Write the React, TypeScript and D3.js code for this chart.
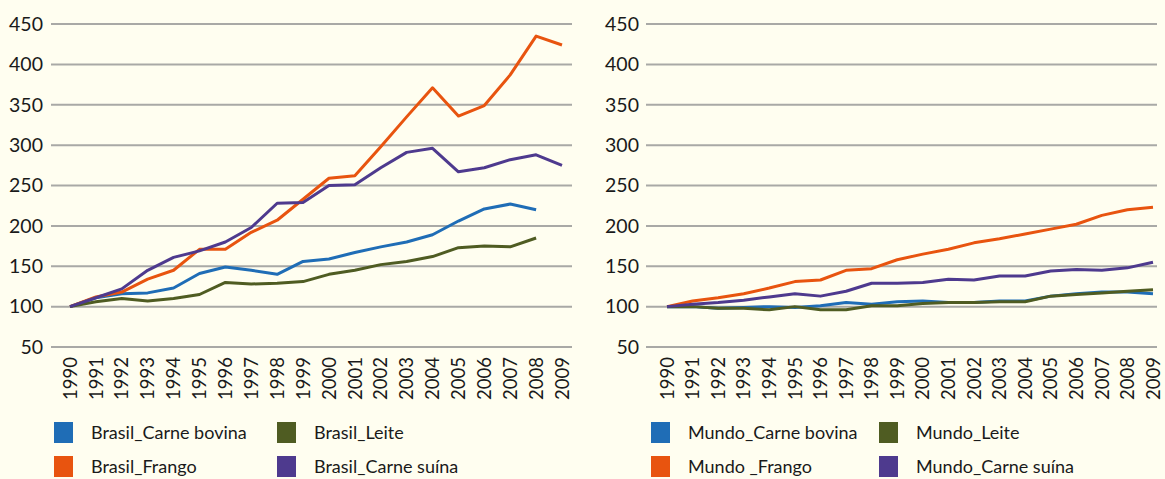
import React from "react";
import * as d3 from "d3";

const width = 1165;
const height = 479;

const years = [
  "1990", "1991", "1992", "1993", "1994", "1995", "1996", "1997", "1998", "1999",
  "2000", "2001", "2002", "2003", "2004", "2005", "2006", "2007", "2008", "2009",
];
const yTicks = [50, 100, 150, 200, 250, 300, 350, 400, 450];

// Brasil
const brasilBovina = [100, 111, 116, 117, 123, 141, 149, 145, 140, 156, 159, 167, 174, 180, 189, 206, 221, 227, 220];
const brasilFrango = [100, 112, 118, 134, 145, 171, 171, 192, 207, 233, 259, 262, 298, 335, 371, 336, 349, 387, 435, 424];
const brasilLeite = [100, 106, 110, 107, 110, 115, 130, 128, 129, 131, 140, 145, 152, 156, 162, 173, 175, 174, 185];
const brasilSuina = [100, 111, 122, 145, 161, 169, 180, 198, 228, 229, 250, 251, 272, 291, 296, 267, 272, 282, 288, 275];

// Mundo
const mundoBovina = [100, 100, 98, 99, 100, 99, 101, 105, 103, 106, 107, 105, 105, 107, 107, 113, 116, 118, 118, 116];
const mundoFrango = [100, 107, 111, 116, 123, 131, 133, 145, 147, 158, 165, 171, 179, 184, 190, 196, 202, 213, 220, 223];
const mundoLeite = [100, 100, 98, 98, 96, 100, 96, 96, 101, 101, 104, 105, 105, 106, 106, 113, 115, 117, 119, 121];
const mundoSuina = [100, 103, 105, 108, 112, 116, 113, 119, 129, 129, 130, 134, 133, 138, 138, 144, 146, 145, 148, 155];

const brasilLabels = ["Brasil_Carne bovina", "Brasil_Frango", "Brasil_Leite", "Brasil_Carne suína"];
const mundoLabels = ["Mundo_Carne bovina", "Mundo _Frango", "Mundo_Leite", "Mundo_Carne suína"];

const colors = ["#1f6db6", "#e8540f", "#4f5c22", "#4e3a8e"];
const font = "Lato, 'Open Sans', sans-serif";

// y scale is shared by both panels
const yScale = d3.scaleLinear().domain([50, 450]).range([347, 24]);

function Panel({ series, labels, gridX, pointX, labelRight, legendX }) {
  const x = d3.scalePoint().domain(years).range(pointX);
  const line = d3
    .line<number>()
    .x((d, i) => x(years[i]))
    .y((d) => yScale(d));

  // legend is column-major: bovina, frango | leite, suína
  const legendPos = [
    [legendX[0], 0],
    [legendX[0], 1],
    [legendX[1], 0],
    [legendX[1], 1],
  ];

  return (
    <g>
      {yTicks.map((t) => (
        <g key={t}>
          <line x1={gridX[0]} x2={gridX[1]} y1={yScale(t)} y2={yScale(t)} stroke="#a9a9a6" strokeWidth={2} />
          <text x={labelRight} y={yScale(t)} dy="0.35em" textAnchor="end" fontSize={19.5} fill="#1a1a1a">
            {t}
          </text>
        </g>
      ))}
      {years.map((yr) => (
        <text
          key={yr}
          transform={`translate(${x(yr)},357) rotate(-90)`}
          textAnchor="end"
          dy="0.36em"
          fontSize={18.5}
          fill="#1a1a1a"
        >
          {yr}
        </text>
      ))}
      {series.map((s, i) => (
        <path key={i} d={line(s)} fill="none" stroke={colors[i]} strokeWidth={3} strokeLinejoin="round" />
      ))}
      {labels.map((lab, i) => {
        const [lx, row] = legendPos[i];
        const ly = 422 + row * 34;
        return (
          <g key={lab}>
            <rect x={lx} y={ly} width={19} height={21} fill={colors[i]} />
            <text x={lx + 37} y={ly + 11} dy="0.36em" fontSize={18} fill="#1a1a1a">
              {lab}
            </text>
          </g>
        );
      })}
    </g>
  );
}

export default function App() {
  return (
    <svg
      width={width}
      height={height}
      style={{ display: "block", position: "absolute", left: 0, top: 0, fontFamily: font }}
    >
      <rect width={width} height={height} fill="#fffef0" />
      <Panel
        series={[brasilBovina, brasilFrango, brasilLeite, brasilSuina]}
        labels={brasilLabels}
        gridX={[51, 572]}
        pointX={[70, 562]}
        labelRight={43}
        legendX={[54, 277]}
      />
      <Panel
        series={[mundoBovina, mundoFrango, mundoLeite, mundoSuina]}
        labels={mundoLabels}
        gridX={[646, 1157]}
        pointX={[667, 1153]}
        labelRight={639}
        legendX={[651, 879]}
      />
    </svg>
  );
}
